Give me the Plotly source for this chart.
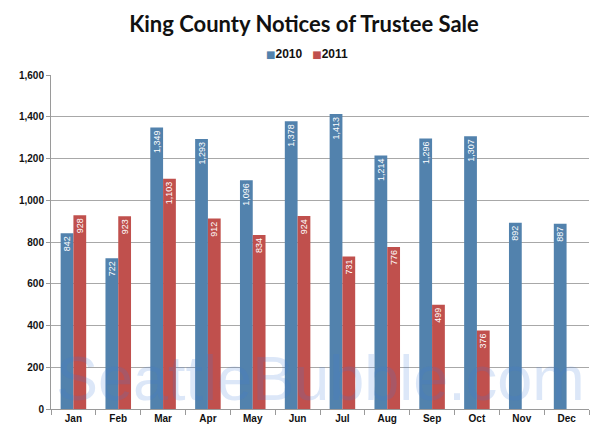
import plotly.graph_objects as go

months = ["Jan", "Feb", "Mar", "Apr", "May", "Jun", "Jul", "Aug", "Sep", "Oct", "Nov", "Dec"]
values_2010 = [842, 722, 1349, 1293, 1096, 1378, 1413, 1214, 1296, 1307, 892, 887]
values_2011 = [928, 923, 1103, 912, 834, 924, 731, 776, 499, 376, None, None]
y_ticks = [0, 200, 400, 600, 800, 1000, 1200, 1400, 1600]
series_names = ["2010", "2011"]

BLUE = "#5282AD"
RED = "#C0504D"
colors = [BLUE, RED]

fig = go.Figure()
for name, vals, col in zip(series_names, [values_2010, values_2011], colors):
    fig.add_trace(go.Bar(
        x=months, y=vals, name=name, showlegend=False,
        marker=dict(color=col, line=dict(width=0)),
        texttemplate="%{y:,}", textposition="inside", insidetextanchor="end",
        textangle=-90, textfont=dict(color="white", size=9, family="Liberation Sans"),
    ))

# compact legend (small square swatches close to their labels)
legend_text = "&nbsp;&nbsp;&nbsp;".join(
    f"<span style='color:{c};font-size:10px;font-family:DejaVu Sans'>■</span><b>{n}</b>"
    for n, c in zip(series_names, colors)
)
fig.add_annotation(
    text=legend_text, x=0.476, y=1.063, xref="paper", yref="paper",
    xanchor="center", yanchor="middle", showarrow=False,
    font=dict(family="Liberation Sans", size=12, color="#111111"),
)

fig.add_annotation(
    text="SeattleBubble.com", x=0.5, y=-0.018, xref="paper", yref="paper",
    xanchor="center", yanchor="bottom", showarrow=False,
    font=dict(family="Liberation Sans", size=63, color="rgba(60,120,215,0.18)"),
)

# page body has an 8px margin, so the figure is 8px smaller and shifted
fig.update_layout(
    width=592, height=428,
    margin=dict(l=33, r=11, t=67, b=27),
    paper_bgcolor="white", plot_bgcolor="white",
    barmode="group", bargap=0.43, bargroupgap=0,
    uniformtext=dict(minsize=9, mode="show"),
    showlegend=False,
    title=dict(text="<b>King County Notices of Trustee Sale</b>", x=0.5, xanchor="center",
               y=1 - 16 / 428, yanchor="middle", yref="container",
               font=dict(family="Lato", size=22, color="#111111")),
    font=dict(family="Liberation Sans", color="#111111"),
)
fig.update_xaxes(
    showline=True, linecolor="#9a9a9a", linewidth=1,
    ticks="outside", ticklen=5, tickcolor="#9a9a9a", tickson="boundaries",
    tickfont=dict(size=10, family="Liberation Sans", color="#111111"),
    tickprefix="<b>", ticksuffix="</b>",
)
fig.update_yaxes(
    range=[0, 1600], tickvals=y_ticks, ticktext=[f"<b>{v:,}</b>" for v in y_ticks],
    showgrid=True, gridcolor="#a8a8a8", gridwidth=1,
    showline=True, linecolor="#9a9a9a", linewidth=1,
    ticks="outside", ticklen=4, tickcolor="#9a9a9a",
    tickfont=dict(size=10, family="Liberation Sans", color="#111111"),
    zeroline=False,
)

fig.write_html("out.html")
